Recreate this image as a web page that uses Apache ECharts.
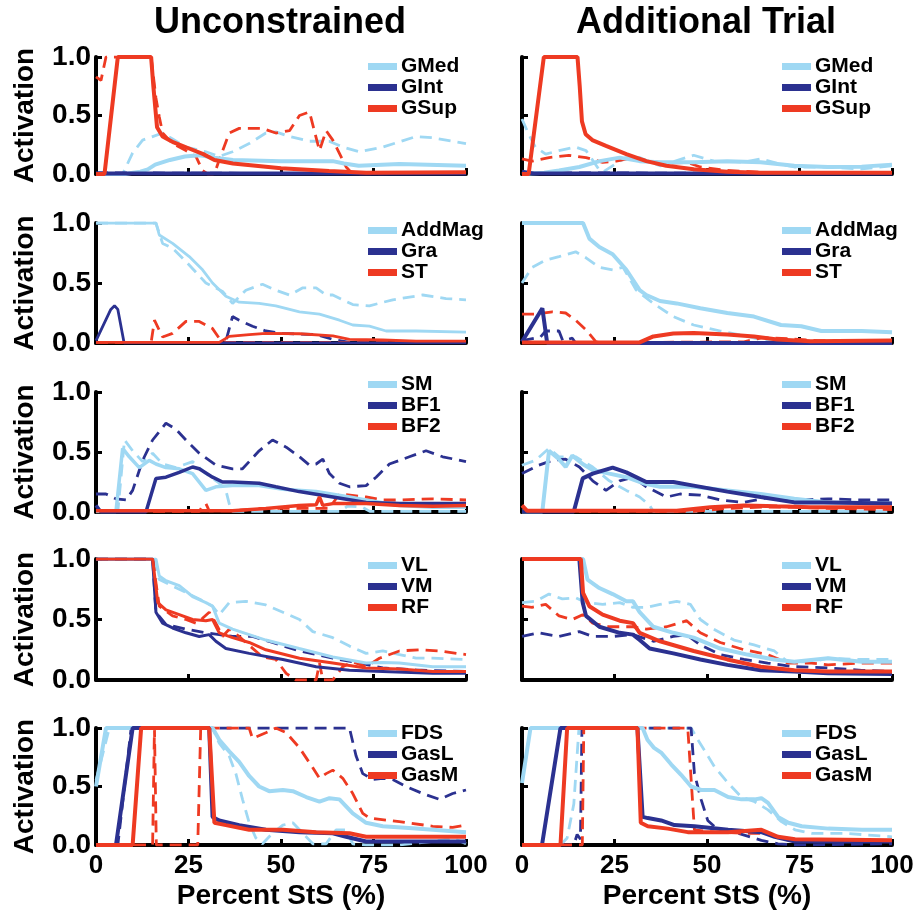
<!DOCTYPE html>
<html>
<head>
<meta charset="utf-8">
<script src="https://cdn.jsdelivr.net/npm/echarts@6/dist/echarts.min.js"></script>
<style>
  html, body { margin: 0; padding: 0; background: #fff; }
  #chart { width: 917px; height: 913px; }
</style>
</head>
<body>
<div id="chart"></div>
<script>
// ---- data: [percent StS, activation] ; solid = first trial, dashed (D) = second ----
// Unconstrained, row 1
const uGMed = [[0,0],[8,0],[10,0.01],[12,0.02],[14,0.04],[16,0.08],[20,0.12],[24,0.15],[28,0.16],[32,0.14],[37,0.12],[50,0.11],[64,0.11],[67,0.09],[71,0.07],[82,0.085],[100,0.07]];
const uGMedD = [[0,0],[7.2,0],[9.9,0.18],[12.6,0.29],[15.3,0.32],[18,0.35],[20.7,0.3],[24.3,0.23],[29.7,0.19],[33.3,0.15],[36.9,0.19],[41.4,0.26],[45.9,0.35],[48.6,0.36],[52.3,0.32],[57.7,0.28],[63,0.28],[66.7,0.23],[71.2,0.19],[77.5,0.23],[86.5,0.32],[91,0.31],[100,0.26]];
const uGInt = [[0,0.005],[100,0.005]];
const uGIntD = [[0,0.01],[50,0.005],[100,0.01]];
const uGSup = [[0,0],[2.3,0],[5.9,1],[14.9,1],[15.5,0.75],[16.5,0.4],[18,0.32],[21,0.27],[25,0.22],[29,0.17],[32,0.12],[37,0.09],[50,0.05],[63,0.025],[73,0.01],[100,0.015]];
const uGSupD = [[0,0.83],[1.35,0.8],[2.7,1],[14.9,1],[16.2,0.65],[17.1,0.49],[18,0.35],[20.7,0.26],[24.3,0.2],[27,0.15],[28.8,0.03],[30.2,0],[32,0],[33.3,0.12],[36,0.35],[38.7,0.39],[45,0.39],[48.6,0.35],[52.3,0.37],[55,0.5],[57.7,0.53],[60.4,0.2],[62.2,0.37],[64,0.29],[67.6,0.06],[69.4,0],[100,0.01]];
// Unconstrained, row 2
const uAddMag = [[0,1],[16.2,1],[17.1,0.9],[20.7,0.83],[25.2,0.72],[28.8,0.61],[31.5,0.5],[35.1,0.39],[38.7,0.34],[44.1,0.33],[48.6,0.31],[55,0.26],[60.4,0.24],[65.8,0.19],[69.4,0.15],[73.9,0.14],[78.4,0.1],[86.5,0.1],[100,0.09]];
const uAddMagD = [[0,1],[16.2,1],[18,0.83],[20.7,0.79],[24.3,0.68],[29.7,0.5],[34.2,0.43],[36.9,0.33],[40.5,0.44],[45,0.49],[48.6,0.44],[52.3,0.4],[55.9,0.46],[59.5,0.46],[62.2,0.4],[64,0.4],[69.4,0.32],[73.9,0.31],[80.2,0.36],[88.3,0.4],[94.6,0.37],[100,0.36]];
const uGra = [[0,0.02],[4,0.28],[5,0.31],[5.9,0.28],[7.6,0],[100,0]];
const uGraD = [[0,0.005],[35,0.005],[36.9,0.22],[38.7,0.19],[42.3,0.14],[45.9,0.1],[50.5,0.08],[55,0.075],[59.5,0.07],[64,0.03],[68.5,0.005],[100,0.005]];
const uST = [[0,0.005],[33.3,0.005],[36,0.055],[41.4,0.07],[45.9,0.08],[55,0.077],[64,0.06],[68.5,0.03],[77.5,0.025],[86.5,0.015],[100,0.015]];
const uSTD = [[0,0.005],[14.9,0.005],[15.8,0.19],[18,0.05],[20.7,0.08],[24.3,0.18],[27.9,0.18],[31.5,0.12],[33.3,0.04],[35.1,0.005],[100,0.005]];
// Unconstrained, row 3
const uSM = [[0,0.005],[5.4,0.005],[7.2,0.53],[9,0.46],[11.7,0.37],[14.4,0.43],[16.2,0.4],[18.9,0.37],[22.5,0.36],[26.1,0.32],[29.7,0.18],[32.4,0.21],[36.9,0.22],[44.1,0.22],[50.5,0.19],[59.5,0.17],[68.5,0.125],[73,0.1],[82,0.055],[91,0.04],[100,0.04]];
const uSMD = [[0,0.005],[5.9,0.005],[7.7,0.6],[9.9,0.51],[12.6,0.42],[15.3,0.49],[18,0.4],[21.6,0.37],[26.1,0.42],[29.7,0.32],[33.3,0.24],[35.1,0.18],[36,0.07],[36.9,0.005],[66,0.005],[68,0.05],[72,0.04],[74,0.005],[100,0.005]];
const uBF1 = [[0,0.055],[1.35,0],[13.5,0],[16.2,0.28],[18.9,0.29],[22.5,0.33],[26.1,0.375],[27.9,0.36],[31.5,0.29],[34.2,0.25],[36.9,0.25],[44.1,0.24],[48.6,0.21],[54.9,0.17],[64,0.125],[73,0.08],[82,0.07],[100,0.07]];
const uBF1D = [[0,0.15],[2.7,0.15],[5.4,0.11],[8.1,0.1],[9.9,0.18],[12.6,0.43],[15.3,0.6],[18.9,0.74],[21.6,0.69],[24.3,0.6],[27.9,0.49],[32.4,0.39],[36.9,0.36],[39.6,0.36],[44.1,0.51],[47.7,0.6],[51.4,0.54],[55,0.46],[57.7,0.39],[59.5,0.4],[61.3,0.44],[63.1,0.32],[65.8,0.24],[68.5,0.21],[73,0.22],[75.7,0.29],[79.3,0.4],[84.7,0.46],[89.2,0.51],[93.7,0.46],[100,0.42]];
const uBF2 = [[0,0.01],[36.9,0.01],[45.9,0.03],[54.9,0.055],[59.5,0.06],[60.4,0.125],[61.3,0.055],[64,0.07],[73,0.07],[82,0.055],[91,0.047],[100,0.055]];
const uBF2D = [[0,0.005],[27.9,0.005],[28.8,0.05],[29.7,0.07],[30.6,0.01],[36.9,0.01],[45,0.03],[63,0.03],[65.8,0.15],[73,0.125],[77.5,0.1],[82,0.1],[91,0.11],[100,0.1]];
// Unconstrained, row 4
const uVL = [[0,1],[16.2,1],[17.1,0.86],[18.9,0.82],[22.5,0.78],[26.1,0.69],[29.7,0.64],[31.5,0.61],[33.3,0.47],[36.9,0.42],[41.4,0.375],[45.9,0.33],[54.9,0.26],[64,0.19],[73,0.14],[77.5,0.145],[82,0.14],[91,0.11],[100,0.11]];
const uVLD = [[0,1],[15.3,1],[17.1,0.83],[22.5,0.75],[27.9,0.67],[31.5,0.61],[33.3,0.54],[36,0.64],[40.5,0.65],[45.9,0.62],[50.5,0.56],[55,0.5],[58.6,0.4],[64,0.35],[68.5,0.28],[73,0.22],[77.5,0.24],[82,0.21],[86.5,0.18],[91,0.18],[100,0.17]];
const uVM = [[0,1],[15.3,1],[16.2,0.56],[18,0.47],[20.7,0.43],[24.3,0.39],[27.9,0.36],[30.6,0.375],[32.4,0.32],[35.1,0.26],[41.4,0.22],[50.5,0.17],[59.5,0.11],[68.5,0.08],[77.5,0.07],[91,0.055],[100,0.055]];
const uVMD = [[0,1],[15.3,1],[16.2,0.56],[18.9,0.46],[24.3,0.42],[29.7,0.39],[33.3,0.375],[36.9,0.36],[42.3,0.36],[47.7,0.31],[55,0.24],[64,0.18],[71.2,0.14],[77.5,0.1],[86.5,0.083],[100,0.07]];
const uRF = [[0,1],[15.3,1],[16.7,0.64],[18.9,0.58],[22.5,0.54],[26.1,0.5],[29.7,0.49],[31.5,0.5],[33.3,0.39],[36.9,0.35],[41.4,0.31],[45.9,0.25],[55,0.18],[64,0.14],[73,0.1],[82,0.09],[91,0.07],[100,0.07]];
const uRFD = [[0,1],[15.3,1],[17.1,0.61],[20.7,0.53],[24.3,0.5],[27,0.47],[28.8,0.51],[30.6,0.56],[32.4,0.47],[34.2,0.36],[36,0.42],[38.7,0.36],[40.5,0.31],[45,0.19],[48.6,0.17],[51.4,0.055],[54,0],[59.5,0],[60.4,0.14],[61.3,0],[64,0],[66.7,0.11],[69.4,0.15],[73,0.11],[76.6,0.18],[82,0.24],[87.4,0.25],[92.8,0.24],[100,0.21]];
// Unconstrained, row 5
const uFDS = [[0,0.5],[2.7,1],[31.5,1],[33.3,0.9],[36,0.8],[38.7,0.71],[41.4,0.59],[44.1,0.5],[46.8,0.46],[50.5,0.47],[53.2,0.46],[56.8,0.41],[60.4,0.37],[63.1,0.4],[65.8,0.39],[69.4,0.27],[73,0.19],[77.5,0.16],[86.5,0.14],[100,0.11]];
const uFDSD = [[0,0.55],[3.6,1],[31.5,1],[33.3,0.87],[36,0.76],[37.8,0.61],[39.6,0.39],[41.4,0.19],[43.2,0.06],[45,0.01],[47.7,0.1],[50.5,0.17],[53.2,0.19],[55.9,0.1],[58.6,0.01],[62.2,0.01],[64.9,0.13],[67.6,0.13],[69.4,0.01],[73,0],[82,0],[91,0.03],[96.4,0.06],[100,0.01]];
const uGasL = [[0,0],[5.4,0],[9.9,1],[30.6,1],[31.5,0.24],[33.3,0.21],[38.7,0.17],[45.9,0.13],[55,0.11],[64,0.1],[67.6,0.07],[73,0.03],[82,0.03],[100,0.03]];
const uGasLD = [[0,0],[5.9,0],[9.5,1],[68.5,1],[70.3,0.76],[72.1,0.61],[74.8,0.56],[77.5,0.57],[80.2,0.56],[83.8,0.5],[88.3,0.44],[92.8,0.39],[96.4,0.44],[100,0.47]];
const uGasM = [[0,0],[9.9,0],[12.2,1],[30.6,1],[32,0.19],[35.1,0.17],[41.4,0.13],[50.5,0.13],[59.5,0.11],[68.5,0.1],[73,0.07],[100,0.07]];
const uGasMD = [[0,0],[15.3,0],[15.8,1],[16.3,0],[27.5,0],[28.3,1],[41.4,1],[42.3,0.91],[45.9,0.96],[48.6,1],[51.4,0.96],[55,0.83],[58.6,0.66],[60.4,0.57],[62.2,0.61],[64,0.64],[66.7,0.57],[69.4,0.44],[72.1,0.27],[73.9,0.23],[82,0.2],[91,0.16],[96.4,0.15],[100,0.17]];

// Additional trial, row 1
const aGMed = [[0,0],[6,0.01],[10,0.03],[15.5,0.06],[21,0.11],[26.4,0.14],[31.8,0.11],[37.3,0.1],[46.4,0.1],[55.5,0.11],[64.5,0.1],[73.6,0.07],[82.7,0.06],[91.8,0.063],[100,0.08]];
const aGMedD = [[0,0.47],[1.8,0.34],[3.6,0.23],[6.4,0.17],[10,0.2],[14.5,0.23],[17.3,0.2],[21,0.03],[22,0.02],[28,0.14],[31.8,0.14],[37.3,0.07],[46.4,0.16],[51.8,0.11],[60,0.1],[64.5,0.13],[69,0.09],[73.6,0.06],[82.7,0.06],[91.8,0.043],[100,0.07]];
const aGInt = [[0,0.02],[3,0.005],[100,0.005]];
const aGIntD = [[0,0.01],[100,0.005]];
const aGSup = [[0,0],[1.8,0],[5.9,1],[15,1],[15.6,0.75],[16.2,0.45],[17.2,0.34],[19,0.29],[22.7,0.24],[28.2,0.17],[33.6,0.11],[39,0.07],[46.4,0.04],[55.5,0.02],[64.5,0.01],[100,0.01]];
const aGSupD = [[0,0.13],[2.7,0.11],[7.3,0.14],[12.7,0.16],[17.3,0.14],[21.8,0.1],[25.5,0.11],[30,0.14],[34.5,0.11],[39,0.09],[44.5,0.1],[48.2,0.06],[55.5,0.03],[64.5,0.015],[73.6,0.005],[100,0.006]];
// Additional trial, row 2
const aAddMag = [[0,1],[16.5,1],[18.2,0.87],[20.9,0.8],[24.5,0.74],[28.2,0.61],[31.8,0.44],[33.6,0.4],[37.3,0.35],[41.8,0.33],[48.2,0.29],[55.5,0.25],[62.7,0.22],[70,0.15],[75.5,0.14],[80.9,0.1],[91.8,0.1],[100,0.09]];
const aAddMagD = [[0,0.5],[2.7,0.63],[6.4,0.69],[10,0.72],[14.5,0.76],[17.3,0.71],[20.9,0.63],[24.5,0.61],[27.3,0.63],[30.9,0.44],[35.5,0.33],[40.9,0.22],[46.4,0.15],[53.6,0.1],[60.9,0.055],[66.4,0.015],[73.6,0.003],[100,0.003]];
const aGra = [[0,0.01],[5.5,0.29],[6.8,0],[100,0]];
const aGraD = [[0,0.02],[5,0.05],[6.4,0.1],[10,0.1],[11,0.02],[13.6,0.04],[14.5,0],[100,0.003]];
const aST = [[0,0.005],[31.8,0.005],[35.5,0.055],[40.9,0.08],[46.4,0.083],[55.5,0.07],[62.7,0.055],[69,0.03],[78,0.015],[100,0.02]];
const aSTD = [[0,0.24],[3.6,0.24],[8.2,0.26],[11.8,0.25],[14.5,0.19],[17.3,0.11],[20,0.01],[22,0.003],[60,0.01],[65,0.045],[72,0.035],[80,0.02],[100,0.02]];
// Additional trial, row 3
const aSM = [[0,0.005],[5.5,0.005],[7.3,0.51],[10,0.44],[11.8,0.375],[13.6,0.47],[16.4,0.4],[19.1,0.35],[23.6,0.32],[28.2,0.29],[32.7,0.24],[37.3,0.21],[46.4,0.21],[55.5,0.18],[64.5,0.15],[73.6,0.11],[82.7,0.08],[100,0.07]];
const aSMD = [[0,0.39],[3.6,0.43],[7.3,0.53],[10,0.46],[14.5,0.46],[19.1,0.375],[23.6,0.26],[28.2,0.18],[31.8,0.125],[34.5,0.055],[35.5,0.005],[100,0.005]];
const aBF1 = [[0,0.005],[14,0.005],[16.4,0.28],[19.1,0.32],[24.5,0.37],[28.2,0.33],[33.6,0.25],[40.9,0.25],[46.4,0.22],[55.5,0.17],[64.5,0.125],[73.6,0.08],[82.7,0.08],[100,0.07]];
const aBF1D = [[0,0.32],[4.5,0.39],[8.2,0.43],[11.8,0.44],[15.5,0.375],[19.1,0.26],[22.7,0.18],[26.4,0.26],[30,0.29],[33.6,0.21],[39.1,0.125],[42.7,0.15],[48.2,0.14],[53.6,0.1],[60,0.08],[67.3,0.125],[73.6,0.1],[82.7,0.11],[91.8,0.1],[100,0.1]];
const aBF2 = [[0,0.055],[1.4,0.01],[41.8,0.01],[50.9,0.04],[60,0.055],[69,0.047],[78,0.04],[100,0.04]];
const aBF2D = [[0,0.005],[46.4,0.005],[55.5,0.03],[64.5,0.04],[73.6,0.04],[82.7,0.03],[100,0.02]];
// Additional trial, row 4
const aVL = [[0,1],[16.5,1],[17.7,0.83],[20.9,0.76],[24.5,0.71],[28.2,0.65],[30,0.65],[31.8,0.56],[35.5,0.44],[40.9,0.39],[46.4,0.35],[53.6,0.26],[60.9,0.21],[68.2,0.17],[73.6,0.15],[82.7,0.18],[91.8,0.15],[100,0.15]];
const aVLD = [[0,0.64],[3.6,0.65],[7.3,0.71],[10.9,0.67],[14.5,0.68],[17.3,0.64],[21.8,0.625],[26.4,0.64],[30,0.6],[33.6,0.6],[37.3,0.625],[41.8,0.65],[45.5,0.625],[48.2,0.5],[51.8,0.42],[57.3,0.33],[62.7,0.29],[68.2,0.24],[71.8,0.15],[78.2,0.15],[82.7,0.18],[91.8,0.17],[100,0.17]];
const aVM = [[0,1],[15.5,1],[16.4,0.64],[17.3,0.53],[20.9,0.44],[26.4,0.39],[30,0.375],[31.8,0.33],[34.5,0.26],[40.9,0.22],[48.2,0.17],[55.5,0.125],[64.5,0.08],[73.6,0.07],[82.7,0.055],[100,0.05]];
const aVMD = [[0,0.36],[4.5,0.39],[10,0.36],[15.5,0.4],[19.1,0.36],[24.5,0.36],[30,0.375],[35.5,0.32],[40.9,0.36],[44.5,0.375],[48.2,0.29],[53.6,0.21],[60,0.17],[66.4,0.14],[73.6,0.11],[82.7,0.1],[91.8,0.08],[100,0.07]];
const aRF = [[0,1],[15.9,1],[16.5,0.72],[18.2,0.61],[21.8,0.54],[26.4,0.49],[30,0.47],[31.8,0.39],[37.3,0.32],[46.4,0.24],[55.5,0.17],[64.5,0.11],[73.6,0.08],[82.7,0.07],[100,0.07]];
const aRFD = [[0,0.61],[2.7,0.6],[6.4,0.625],[10,0.53],[13.6,0.5],[16.4,0.54],[19.1,0.47],[23.6,0.44],[30,0.44],[33.6,0.42],[39.1,0.44],[44.5,0.49],[48.2,0.39],[53.6,0.31],[60,0.25],[66.4,0.21],[71.8,0.14],[78.2,0.14],[82.7,0.125],[91.8,0.14],[100,0.14]];
// Additional trial, row 5
const aFDS = [[0,0.53],[2.3,1],[32.6,1],[33.9,0.9],[35.7,0.83],[37.6,0.79],[40.3,0.69],[43,0.6],[45.7,0.5],[48.4,0.47],[52,0.47],[55.7,0.41],[59.3,0.39],[62.9,0.39],[64.7,0.4],[66.5,0.36],[69.2,0.24],[72,0.19],[75.6,0.16],[82.8,0.14],[91.9,0.13],[100,0.13]];
const aFDSD = [[0,0],[10.4,0],[12.2,0.06],[14,0.35],[15.4,1],[45.7,1],[47.5,0.9],[49.3,0.81],[52,0.67],[55.7,0.53],[59.3,0.41],[62.9,0.37],[66.5,0.3],[70.1,0.2],[73.8,0.13],[78.3,0.1],[87.3,0.1],[100,0.07]];
const aGasL = [[0,0],[5.4,0],[10.4,1],[31.2,1],[32.6,0.24],[34,0.23],[37.6,0.21],[41.2,0.17],[46.6,0.16],[55.7,0.13],[64.7,0.11],[68.3,0.07],[73.8,0.03],[82.8,0.03],[100,0.03]];
const aGasLD = [[0,0],[14,0],[14.9,0.09],[15.8,0.05],[16.2,1],[45.7,1],[46.6,0.61],[48.4,0.39],[50.2,0.21],[53,0.13],[58.4,0.1],[64.7,0.04],[69.2,0.01],[73.8,0],[100,0.01]];
const aGasM = [[0,0],[10.4,0],[12.2,1],[31.2,1],[32.1,0.19],[34,0.16],[39.4,0.14],[44.8,0.11],[55.7,0.11],[64.7,0.13],[69.2,0.07],[73.8,0.05],[100,0.04]];
const aGasMD = [[0,0],[16.3,0],[16.7,1],[44.8,1],[46.6,0.13],[52,0.11],[60.2,0.1],[66.5,0.1],[69.2,0.06],[73.8,0.03],[100,0.03]];

const muscleNames = [
    ['GMed', 'GInt', 'GSup'],
    ['AddMag', 'Gra', 'ST'],
    ['SM', 'BF1', 'BF2'],
    ['VL', 'VM', 'RF'],
    ['FDS', 'GasL', 'GasM']
];
// each row: [solid, dashed] per muscle
const unconstrained = [
    [[uGMed, uGMedD], [uGInt, uGIntD], [uGSup, uGSupD]],
    [[uAddMag, uAddMagD], [uGra, uGraD], [uST, uSTD]],
    [[uSM, uSMD], [uBF1, uBF1D], [uBF2, uBF2D]],
    [[uVL, uVLD], [uVM, uVMD], [uRF, uRFD]],
    [[uFDS, uFDSD], [uGasL, uGasLD], [uGasM, uGasMD]]
];
const additional = [
    [[aGMed, aGMedD], [aGInt, aGIntD], [aGSup, aGSupD]],
    [[aAddMag, aAddMagD], [aGra, aGraD], [aST, aSTD]],
    [[aSM, aSMD], [aBF1, aBF1D], [aBF2, aBF2D]],
    [[aVL, aVLD], [aVM, aVMD], [aRF, aRFD]],
    [[aFDS, aFDSD], [aGasL, aGasLD], [aGasM, aGasMD]]
];
const colTitles = ['Unconstrained', 'Additional Trial'];
const yTicks = [0, 0.5, 1];
const xTicks = [0, 25, 50, 75, 100];

// ---- layout ----
const FONT = 'Liberation Sans, Arial, sans-serif';
const colors = ['#9fd8f3', '#2b3190', '#ee3a22'];
const colLeft = [96, 522];
const plotW = 370;
const rowTop = [57, 223, 392, 559, 728];
const rowH = [117, 120, 120, 121, 117];
const legendTop = [56, 220, 374, 555, 723];
const legendLeft = [368, 782];
const solidW = [[4, 4], [2.8, 4], [3.5, 4], [3, 4], [4, 4]];

const chart = echarts.init(document.getElementById('chart'));
const grid = [], xAxis = [], yAxis = [], series = [], legend = [];

[unconstrained, additional].forEach((panelSet, c) => {
    panelSet.forEach((rowData, r) => {
        const idx = grid.length;
        grid.push({ left: colLeft[c], top: rowTop[r], width: plotW, height: rowH[r] });
        xAxis.push({
            gridIndex: idx, type: 'value', min: xTicks[0], max: xTicks[xTicks.length - 1],
            interval: xTicks[1] - xTicks[0],
            axisLine: { show: true, lineStyle: { color: '#000', width: 4 } },
            axisTick: { show: true, inside: true, length: 6, lineStyle: { color: '#000', width: 3 } },
            axisLabel: { show: r === 4, color: '#000', fontSize: 26, fontWeight: 'bold', fontFamily: FONT, margin: 8 },
            splitLine: { show: false },
            name: r === 4 ? 'Percent StS (%)' : '',
            nameLocation: 'middle', nameGap: 37,
            nameTextStyle: { color: '#000', fontSize: 28, fontWeight: 'bold', fontFamily: FONT }
        });
        yAxis.push({
            gridIndex: idx, type: 'value', min: yTicks[0], max: yTicks[yTicks.length - 1],
            interval: yTicks[1] - yTicks[0],
            axisLine: { show: true, lineStyle: { color: '#000', width: 4 } },
            axisTick: { show: true, inside: true, length: 6, lineStyle: { color: '#000', width: 3 } },
            axisLabel: {
                show: c === 0, color: '#000', fontSize: 28, fontWeight: 'bold', fontFamily: FONT, margin: 5,
                formatter: v => v.toFixed(1)
            },
            splitLine: { show: false },
            name: c === 0 ? 'Activation' : '',
            nameLocation: 'middle', nameGap: 57, nameRotate: 90,
            nameTextStyle: { color: '#000', fontSize: 28, fontWeight: 'bold', fontFamily: FONT }
        });
        // dashed first, then solid on top
        [1, 0].forEach(k => {
            rowData.forEach((pair, m) => {
                series.push({
                    name: k === 0 ? muscleNames[r][m] : muscleNames[r][m] + ' (2)',
                    type: 'line',
                    xAxisIndex: idx, yAxisIndex: idx,
                    data: pair[k],
                    showSymbol: false, symbol: 'none',
                    animation: false,
                    itemStyle: { color: colors[m] },
                    lineStyle: k === 0
                        ? { color: colors[m], width: solidW[r][c] }
                        : { color: colors[m], width: 2.8, type: [12, 7] }
                });
            });
        });
        legend.push({
            data: muscleNames[r],
            left: legendLeft[c], top: legendTop[r],
            orient: 'vertical', icon: 'rect',
            itemWidth: 29, itemHeight: 7, itemGap: 0, padding: 0,
            selectedMode: false,
            textStyle: { color: '#000', fontSize: 21, fontWeight: 'bold', fontFamily: FONT, lineHeight: 20, padding: [0, 0, 0, -1] }
        });
    });
});

const option = {
    backgroundColor: '#fff',
    animation: false,
    title: colTitles.map((t, c) => ({
        text: t, left: colLeft[c] + plotW / 2 - 1, top: 5, textAlign: 'center', padding: 0,
        textStyle: { color: '#000', fontSize: 36, fontWeight: 'bold', fontFamily: FONT }
    })),
    grid: grid,
    xAxis: xAxis,
    yAxis: yAxis,
    legend: legend,
    series: series
};
chart.setOption(option);
</script>
</body>
</html>
